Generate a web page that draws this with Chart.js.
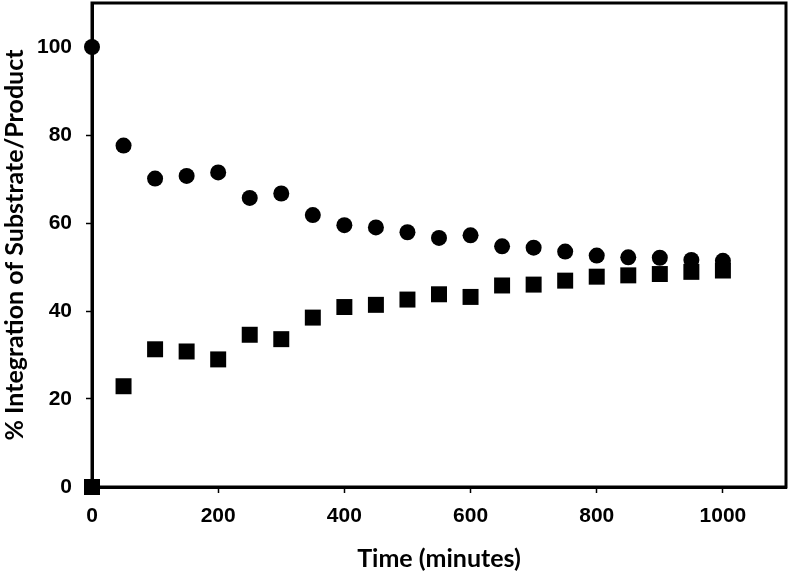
<!DOCTYPE html>
<html>
<head>
<meta charset="utf-8">
<script src="https://cdn.jsdelivr.net/npm/chart.js@4/dist/chart.umd.min.js"></script>
<style>
  html, body { margin: 0; padding: 0; background: #fff; }
  #wrap { width: 791px; height: 576px; }
</style>
</head>
<body>
<div id="wrap"><canvas id="chart" width="791" height="576"></canvas></div>
<script>
// time points (minutes)
const times = [0, 50, 100, 150, 200, 250, 300, 350, 400, 450, 500,
  550, 600, 650, 700, 750, 800, 850, 900, 950, 1000];
// substrate (circles)
const substrate = [100, 77.6, 70.1, 70.7, 71.5, 65.7, 66.7, 61.8, 59.5, 59.0, 57.9,
  56.6, 57.2, 54.7, 54.4, 53.5, 52.6, 52.2, 52.1, 51.6, 51.4];
// product (squares)
const product = [0, 22.9, 31.3, 30.8, 29.0, 34.6, 33.6, 38.5, 40.9, 41.4, 42.6,
  43.8, 43.2, 45.8, 46.0, 46.9, 47.8, 48.1, 48.4, 48.9, 49.2];
const xTicks = [0, 200, 400, 600, 800, 1000];
const yTicks = [0, 20, 40, 60, 80, 100];

const toPts = (ys) => times.map((t, i) => ({ x: t, y: ys[i] }));

// box round the plot area (drawn under the markers)
const frame = {
  id: "frame",
  beforeDatasetsDraw(chart) {
    const { ctx, chartArea: a } = chart;
    ctx.save();
    ctx.strokeStyle = "#000";
    ctx.lineWidth = 3;
    ctx.strokeRect(a.left, a.top, a.right - a.left, a.bottom - a.top);
    ctx.restore();
  },
};

// no extra room for end labels, the plot goes right up to the edges
const noPad = (s) => {
  s.paddingTop = 0;
  s.paddingRight = 0;
  s.paddingLeft = 0;
  s.paddingBottom = 0;
};

const tickFont = { family: "'Liberation Sans', Arial, sans-serif", size: 21, weight: "bold" };
const titleFont = { family: "Lato, 'Open Sans', sans-serif", size: 25, weight: "bold" };

new Chart(document.getElementById("chart"), {
  type: "scatter",
  data: {
    datasets: [
      {
        label: "Substrate",
        data: toPts(substrate),
        pointStyle: "circle",
        pointRadius: 8,
        pointHoverRadius: 8,
        backgroundColor: "#000",
        borderColor: "#000",
        borderWidth: 0,
        clip: false,
      },
      {
        label: "Product",
        data: toPts(product),
        pointStyle: "rect",
        pointRadius: 11.3,
        pointHoverRadius: 11.3,
        backgroundColor: "#000",
        borderColor: "#000",
        borderWidth: 0,
        clip: false,
      },
    ],
  },
  options: {
    responsive: false,
    animation: false,
    events: [],
    layout: { autoPadding: false, padding: { top: 3, right: 5, left: 0, bottom: 0 } },
    plugins: { legend: { display: false }, tooltip: { enabled: false } },
    scales: {
      x: {
        type: "linear",
        min: 0,
        max: 1100,
        afterBuildTicks: (s) => { s.ticks = xTicks.map((v) => ({ value: v })); },
        afterFit: (s) => { s.height = 89; noPad(s); },
        ticks: { color: "#000", font: tickFont, padding: 11, maxRotation: 0, callback: (v) => String(v) },
        grid: { drawOnChartArea: false, drawTicks: true, tickLength: 6, tickWidth: 1.5, color: "#000" },
        border: { display: true, color: "#000", width: 3 },
        title: { display: true, text: "Time (minutes)", color: "#000", font: titleFont, padding: { top: 10, bottom: 2 } },
      },
      y: {
        type: "linear",
        min: 0,
        max: 110,
        afterBuildTicks: (s) => { s.ticks = yTicks.map((v) => ({ value: v })); },
        afterFit: (s) => { s.width = 92; noPad(s); },
        ticks: { color: "#000", font: tickFont, padding: 14, callback: (v) => String(v) },
        grid: { drawOnChartArea: false, drawTicks: true, tickLength: 6, tickWidth: 1.5, color: "#000" },
        border: { display: true, color: "#000", width: 3 },
        title: { display: true, text: "% Integration of Substrate/Product", color: "#000", font: titleFont, padding: { top: 0, bottom: 4 } },
      },
    },
  },
  plugins: [frame],
});
</script>
</body>
</html>
